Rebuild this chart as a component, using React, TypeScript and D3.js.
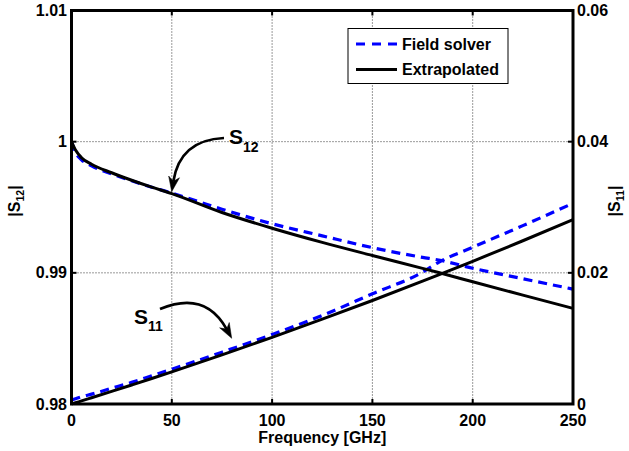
import React from "react";
import * as d3 from "d3";

const freq = [0, 2, 5, 10, 20, 30, 40, 50, 75, 100, 125, 150, 175, 183, 200, 225, 250];
const s12Solver = [1.0, 0.99918, 0.99862, 0.99815, 0.99755, 0.99702, 0.99653, 0.99608, 0.99485, 0.99374, 0.99282, 0.99192, 0.99118, 0.99098, 0.99035, 0.98955, 0.98876];
const s12Extrap = [1.0, 0.99936, 0.99878, 0.99828, 0.99763, 0.99706, 0.99653, 0.99604, 0.9946, 0.9934, 0.99232, 0.99132, 0.99034, 0.99002, 0.98932, 0.9883, 0.98729];
const s11Solver = [0.0006, 0.0008, 0.0011, 0.0015, 0.0024, 0.0033, 0.0043, 0.0053, 0.0079, 0.0106, 0.0135, 0.0168, 0.0201, 0.0216, 0.0239, 0.0272, 0.0306];
const s11Extrap = [0, 0.00019, 0.00047, 0.00095, 0.00192, 0.0029, 0.00389, 0.0049, 0.00749, 0.01016, 0.01293, 0.01578, 0.01873, 0.01969, 0.02176, 0.02489, 0.0281];

const xTicks = [0, 50, 100, 150, 200, 250];
const yLeftTicks = [0.98, 0.99, 1, 1.01];
const yLeftLabels = ["0.98", "0.99", "1", "1.01"];
const yRightTicks = [0, 0.02, 0.04, 0.06];
const yRightLabels = ["0", "0.02", "0.04", "0.06"];
const legendLabels = ["Field solver", "Extrapolated"];

const FONT = "'Liberation Sans', Arial, Helvetica, sans-serif";

export default function App() {
  const L = 71.5, R = 573, T = 10.5, B = 404;
  const x = d3.scaleLinear().domain([0, 250]).range([L, R]);
  const yL = d3.scaleLinear().domain([0.98, 1.01]).range([B, T]);
  const yR = d3.scaleLinear().domain([0, 0.06]).range([B, T]);

  const lineL = (vals: number[]) =>
    d3.line<number>().x((_, i) => x(freq[i])).y((v) => yL(v)).curve(d3.curveMonotoneX)(vals) || "";
  const lineR = (vals: number[]) =>
    d3.line<number>().x((_, i) => x(freq[i])).y((v) => yR(v)).curve(d3.curveMonotoneX)(vals) || "";

  const arrow = (p0: [number, number], c: [number, number], tip: [number, number]) => {
    const dx = tip[0] - c[0], dy = tip[1] - c[1];
    const len = Math.hypot(dx, dy);
    const ux = dx / len, uy = dy / len;
    const hl = 15, hw = 5.5;
    const base: [number, number] = [tip[0] - ux * hl, tip[1] - uy * hl];
    const notch: [number, number] = [tip[0] - ux * hl * 0.7, tip[1] - uy * hl * 0.7];
    const px = -uy, py = ux;
    const shaft = `M${p0[0]},${p0[1]} Q${c[0]},${c[1]} ${notch[0]},${notch[1]}`;
    const head = `M${tip[0]},${tip[1]} L${base[0] + px * hw},${base[1] + py * hw} L${notch[0]},${notch[1]} L${base[0] - px * hw},${base[1] - py * hw} Z`;
    return (
      <g>
        <path d={shaft} fill="none" stroke="#000" strokeWidth={2.7} />
        <path d={head} fill="#000" stroke="#000" strokeWidth={0.5} />
      </g>
    );
  };

  return (
    <svg width={629} height={451} style={{ position: "absolute", left: 0, top: 0, background: "#fff" }} fontFamily={FONT}>
      <rect x={0} y={0} width={629} height={451} fill="#fff" />
      {xTicks.filter((t) => t > 0 && t < 250).map((t) => (
        <line key={"gx" + t} x1={x(t)} x2={x(t)} y1={T} y2={B} stroke="#000" strokeWidth={0.8} strokeDasharray="1,2" />
      ))}
      {yLeftTicks.filter((t) => t > 0.98 && t < 1.01).map((t) => (
        <line key={"gy" + t} x1={L} x2={R} y1={yL(t)} y2={yL(t)} stroke="#000" strokeWidth={0.8} strokeDasharray="1,2" />
      ))}
      <path d={lineL(s12Solver)} fill="none" stroke="#0000ff" strokeWidth={3.2} strokeDasharray="9,6" />
      <path d={lineR(s11Solver)} fill="none" stroke="#0000ff" strokeWidth={3.2} strokeDasharray="9,6" />
      <path d={lineL(s12Extrap)} fill="none" stroke="#000" strokeWidth={3} />
      <path d={lineR(s11Extrap)} fill="none" stroke="#000" strokeWidth={3} />
      <rect x={L} y={T} width={R - L} height={B - T} fill="none" stroke="#000" strokeWidth={3} />
      {xTicks.map((t) => (
        <g key={"tx" + t}>
          <line x1={x(t)} x2={x(t)} y1={B} y2={B - 5} stroke="#000" strokeWidth={2} />
          <line x1={x(t)} x2={x(t)} y1={T} y2={T + 5} stroke="#000" strokeWidth={2} />
          <text x={x(t)} y={425.5} textAnchor="middle" fontSize={16} fontWeight="bold">{t}</text>
        </g>
      ))}
      {yLeftTicks.map((t, i) => (
        <g key={"tl" + t}>
          <line x1={L} x2={L + 5} y1={yL(t)} y2={yL(t)} stroke="#000" strokeWidth={2} />
          <text x={67} y={yL(t) + 5.6} textAnchor="end" fontSize={16} fontWeight="bold">{yLeftLabels[i]}</text>
        </g>
      ))}
      {yRightTicks.map((t, i) => (
        <g key={"tr" + t}>
          <line x1={R} x2={R - 5} y1={yR(t)} y2={yR(t)} stroke="#000" strokeWidth={2} />
          <text x={577} y={yR(t) + 5.6} textAnchor="start" fontSize={16} fontWeight="bold">{yRightLabels[i]}</text>
        </g>
      ))}
      <text x={(L + R) / 2} y={443} textAnchor="middle" fontSize={16} fontWeight="bold">Frequency [GHz]</text>
      <text transform="translate(20,201) rotate(-90)" textAnchor="middle" fontSize={16} fontWeight="bold">
        |S<tspan fontSize={10.5} dy={4}>12</tspan><tspan dy={-4}>|</tspan>
      </text>
      <text transform="translate(620,201) rotate(-90)" textAnchor="middle" fontSize={16} fontWeight="bold">
        |S<tspan fontSize={10.5} dy={4}>11</tspan><tspan dy={-4}>|</tspan>
      </text>
      <rect x={348} y={28.5} width={160} height={55} fill="#fff" stroke="#000" strokeWidth={1} />
      <line x1={356} x2={397} y1={44} y2={44} stroke="#0000ff" strokeWidth={3.2} strokeDasharray="9,7" />
      <line x1={356} x2={397} y1={69.5} y2={69.5} stroke="#000" strokeWidth={3} />
      <text x={402} y={49.6} fontSize={16} fontWeight="bold">{legendLabels[0]}</text>
      <text x={402} y={75.1} fontSize={16} fontWeight="bold">{legendLabels[1]}</text>
      {arrow([224, 138], [180, 140], [171.7, 191.7])}
      <text x={229} y={143.5} fontSize={21} fontWeight="bold">S<tspan fontSize={14} dy={8}>12</tspan></text>
      {arrow([160, 309], [205, 290], [231.7, 338.3])}
      <text x={134} y={323.5} fontSize={21} fontWeight="bold">S<tspan fontSize={14} dy={7.5}>11</tspan></text>
    </svg>
  );
}
